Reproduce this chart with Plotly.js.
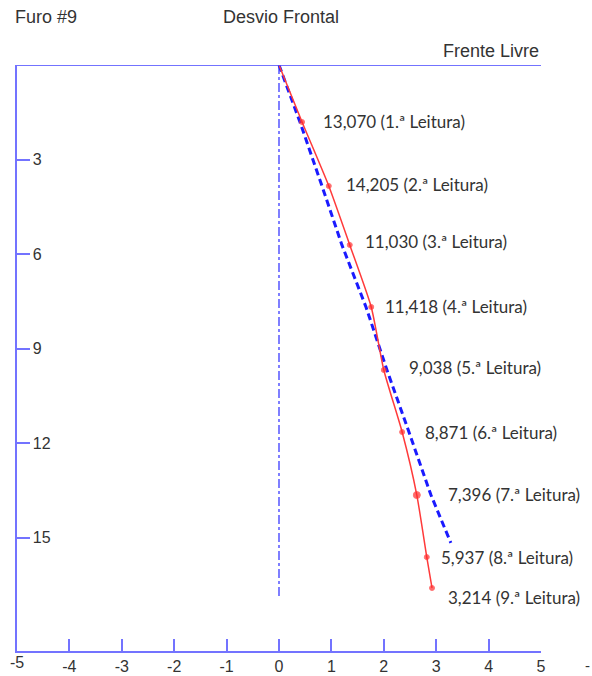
<!DOCTYPE html>
<html>
<head>
<meta charset="utf-8">
<script src="https://cdn.plot.ly/plotly-3.0.1.min.js"></script>
<style>body{margin:0;padding:0;background:#fff;}#chart{width:592px;height:676px;}</style>
</head>
<body>
<div id="chart"></div>
<script>
// Measured hole path (red) — reading points
const redX = [0, 0.44, 0.95, 1.35, 1.76, 2.00, 2.35, 2.63, 2.82, 2.92];
const redY = [0, 1.81, 3.84, 5.71, 7.68, 9.68, 11.65, 13.65, 15.62, 16.60];
// Designed / reference path (blue dashed)
const blueX = [0, 0.40, 0.82, 1.20, 1.66, 2.06, 2.48, 2.90, 3.28];
const blueY = [0, 1.81, 3.84, 5.71, 7.68, 9.68, 11.65, 13.65, 15.17];
// Vertical centre line
const axisLineX = [0, 0];
const axisLineY = [0, 16.9];
// Reading labels
const readingValues = ["13,070", "14,205", "11,030", "11,418", "9,038", "8,871", "7,396", "5,937", "3,214"];
const readingNames = ["1.ª Leitura", "2.ª Leitura", "3.ª Leitura", "4.ª Leitura", "5.ª Leitura", "6.ª Leitura", "7.ª Leitura", "8.ª Leitura", "9.ª Leitura"];
// Tick labels
const xTickVals = [-5, -4, -3, -2, -1, 0, 1, 2, 3, 4, 5];
const xTickText = ["-5", "-4", "-3", "-2", "-1", "0", "1", "2", "3", "4", "5"];
const yTickVals = [3, 6, 9, 12, 15];
const yTickText = ["3", "6", "9", "12", "15"];

// label placement (layout only)
const labelX = [0.80, 1.24, 1.60, 1.98, 2.44, 2.75, 3.19, 3.05, 3.19];
const labelY = [1.78, 3.78, 5.59, 7.65, 9.59, 11.65, 13.62, 15.62, 16.89];

const axisBlue = 'rgba(80,80,255,0.8)';
const textCol = '#333333';
const titleFont = '"Liberation Sans", Arial, sans-serif';
const labelFont = 'Lato, "Open Sans", sans-serif';

const markerSizes = redX.map((_, i) => i === 0 ? 0 : (i === 7 ? 7 : 5));

const traces = [
  {x: axisLineX, y: axisLineY, mode: 'lines', line: {color: '#2a2aff', width: 1.2, dash: 'dashdot'}, hoverinfo: 'skip'},
  {x: blueX, y: blueY, mode: 'lines', line: {color: '#1a1aff', width: 3, dash: '7px,4px'}, hoverinfo: 'skip'},
  {x: redX, y: redY, mode: 'lines+markers', line: {color: '#ff3a3a', width: 1.5, shape: 'spline', smoothing: 0.6},
   marker: {color: '#ff2a2a', size: markerSizes, symbol: 'circle'}, hoverinfo: 'skip'}
];

const annotations = readingValues.map((v, i) => ({
  x: labelX[i], y: labelY[i], xref: 'x', yref: 'y',
  text: v + ' (' + readingNames[i] + ')', showarrow: false,
  xanchor: 'left', yanchor: 'middle',
  font: {family: labelFont, size: 17, color: textCol}
}));
annotations.push(
  {x: 0, y: 1, xref: 'paper', yref: 'paper', xshift: -4, yshift: 36, text: 'Furo #9', showarrow: false,
   xanchor: 'left', yanchor: 'bottom', font: {family: titleFont, size: 18, color: textCol}},
  {x: 0.389, y: 1, xref: 'paper', yref: 'paper', yshift: 36, text: 'Desvio Frontal', showarrow: false,
   xanchor: 'left', yanchor: 'bottom', font: {family: titleFont, size: 18, color: textCol}},
  {x: 1, y: 1, xref: 'paper', yref: 'paper', yshift: 2, text: 'Frente Livre', showarrow: false,
   xanchor: 'right', yanchor: 'bottom', font: {family: titleFont, size: 18, color: textCol}},
  {x: xTickVals[0], y: 0, xref: 'x', yref: 'paper', yshift: -1, text: xTickText[0], showarrow: false,
   xanchor: 'center', yanchor: 'top', font: {family: titleFont, size: 16, color: textCol}},
  {x: 1.088, y: 0, xref: 'paper', yref: 'paper', yshift: -4, text: '-', showarrow: false,
   xanchor: 'center', yanchor: 'top', font: {family: titleFont, size: 15, color: textCol}}
);

const layout = {
  width: 592, height: 676,
  margin: {l: 17, r: 51, t: 65, b: 25, pad: 0},
  paper_bgcolor: '#fff', plot_bgcolor: '#fff',
  showlegend: false,
  xaxis: {
    range: [-5, 5], showgrid: false, zeroline: false,
    showline: true, linecolor: axisBlue, linewidth: 2,
    ticks: 'inside', ticklen: 12, tickwidth: 2, tickcolor: axisBlue,
    tickvals: xTickVals, ticktext: xTickText, ticklabeloverflow: 'allow',
    tickfont: {family: titleFont, size: 16, color: textCol}
  },
  yaxis: {
    range: [18.6, 0], showgrid: false, zeroline: false,
    showline: true, linecolor: axisBlue, linewidth: 2,
    ticks: 'inside', ticklen: 13, tickwidth: 2, tickcolor: axisBlue,
    ticklabelposition: 'inside', ticklabelstandoff: 3,
    tickvals: yTickVals, ticktext: yTickText,
    tickfont: {family: titleFont, size: 16, color: textCol}
  },
  shapes: [
    {type: 'line', xref: 'x', yref: 'y', x0: -5, x1: 5, y0: 0, y1: 0,
     line: {color: axisBlue, width: 2}}
  ],
  annotations: annotations
};

Plotly.newPlot('chart', traces, layout, {displayModeBar: false, staticPlot: true});
</script>
</body>
</html>
